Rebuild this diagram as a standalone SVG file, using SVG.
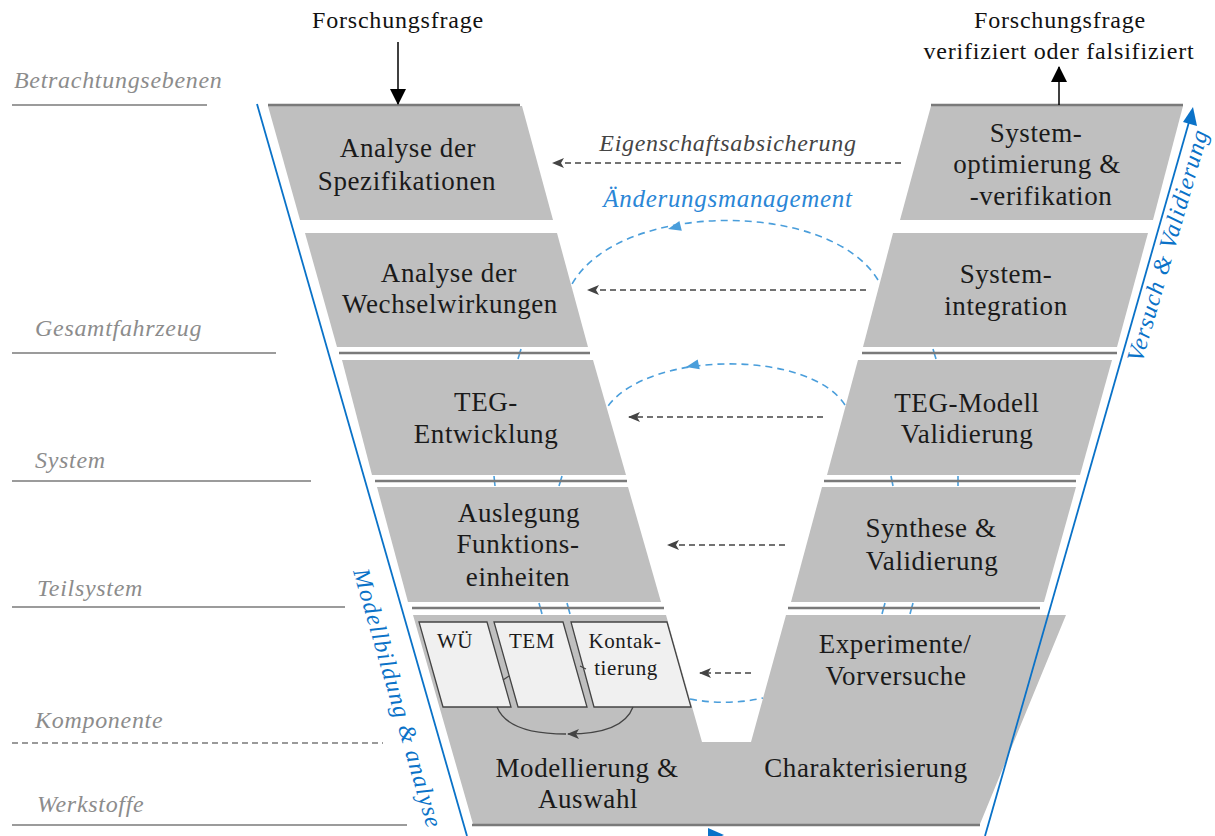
<svg xmlns="http://www.w3.org/2000/svg" width="1215" height="836" viewBox="0 0 1215 836">
<defs>
<style>
.blk{fill:#bfbfbf;stroke:none}
.sub{fill:#f0f0f0;stroke:#444;stroke-width:1.3}
.sep{stroke:#7a7a7a;stroke-width:2.6;fill:none}
.lvl{stroke:#7a7a7a;stroke-width:1.6;fill:none}
.t{font-family:"Liberation Serif","Times New Roman",serif;font-size:27px;letter-spacing:0.6px;fill:#1a1a1a;text-anchor:middle}
.ts{font-family:"Liberation Serif","Times New Roman",serif;font-size:21px;letter-spacing:0.6px;fill:#1a1a1a;text-anchor:middle}
.top{font-family:"Liberation Serif","Times New Roman",serif;font-size:24px;letter-spacing:0.8px;fill:#111;text-anchor:middle}
.lbl{font-family:"Liberation Serif","Times New Roman",serif;font-size:24px;font-style:italic;letter-spacing:0.7px;fill:#8c8c8c}
.dash{stroke:#444;stroke-width:1.5;stroke-dasharray:6 4;fill:none;marker-end:url(#ah)}
.bdash{stroke:#4a9edb;stroke-width:1.6;stroke-dasharray:7 5;fill:none}
.blue{stroke:#0a72c8;stroke-width:1.8;fill:none}
.btxt{font-family:"Liberation Serif","Times New Roman",serif;font-size:24px;font-style:italic;fill:#0a72c8;text-anchor:middle}
.mid{font-family:"Liberation Serif","Times New Roman",serif;font-style:italic;text-anchor:middle}
</style>
<marker id="ah" viewBox="0 0 12 10" refX="11" refY="5" markerWidth="12" markerHeight="10" markerUnits="userSpaceOnUse" orient="auto">
<path d="M0,0 L12,5 L0,10 L3,5 Z" fill="#444"/>
</marker>
<marker id="ahk" viewBox="0 0 16 16" refX="15" refY="8" markerWidth="16" markerHeight="16" markerUnits="userSpaceOnUse" orient="auto">
<path d="M0,0 L16,8 L0,16 Z" fill="#000"/>
</marker>
</defs>
<rect width="1215" height="836" fill="#ffffff"/>

<g id="levels">
<line class="lvl" x1="12" y1="105" x2="207" y2="105"/>
<line class="lvl" x1="12" y1="353" x2="276" y2="353"/>
<line class="lvl" x1="12" y1="481" x2="311" y2="481"/>
<line class="lvl" x1="12" y1="607" x2="345" y2="607"/>
<line class="lvl" x1="12" y1="743" x2="383" y2="743" stroke-dasharray="6 4"/>
<line class="lvl" x1="12" y1="825" x2="407" y2="825"/>
<text class="lbl" x="14" y="88">Betrachtungsebenen</text>
<text class="lbl" x="35" y="336">Gesamtfahrzeug</text>
<text class="lbl" x="35" y="468">System</text>
<text class="lbl" x="37" y="596">Teilsystem</text>
<text class="lbl" x="35" y="728">Komponente</text>
<text class="lbl" x="37" y="812">Werkstoffe</text>
</g>

<g id="change-arcs">
<path class="bdash" d="M878,280 C830,200 620,200 572,284"/>
<path class="bdash" d="M845,405 C810,350 650,350 608,406"/>
<path class="bdash" d="M690,699 Q727,706 763,698"/>
<polygon points="0,0 13,-5 13,5" fill="#4a9edb" transform="translate(668,229) rotate(-14)"/>
<polygon points="0,0 13,-5 13,5" fill="#4a9edb" transform="translate(686,367) rotate(-12)"/>
<g stroke="#4a9edb" stroke-width="1.6">
<line x1="521" y1="349" x2="518" y2="359"/>
<line x1="933" y1="349" x2="936" y2="359"/>
<line x1="494" y1="476" x2="495" y2="486"/>
<line x1="562" y1="476" x2="559" y2="486"/>
<line x1="891" y1="476" x2="893" y2="486"/>
<line x1="958" y1="476" x2="958" y2="486"/>
<line x1="539" y1="603" x2="542" y2="614"/>
<line x1="567" y1="603" x2="570" y2="614"/>
<line x1="885" y1="603" x2="882" y2="614"/>
<line x1="913" y1="603" x2="910" y2="614"/>
</g>
</g>

<g id="analyse-spezifikationen">
<polygon class="blk" points="268,106 522,106 553,220 300,220"/>
<line class="sep" x1="268" y1="105" x2="520" y2="105"/>
<text class="t" x="408" y="157">Analyse der</text>
<text class="t" x="407" y="190">Spezifikationen</text>
</g>
<g id="analyse-wechselwirkungen">
<polygon class="blk" points="305,233 557,233 588,347 337,347"/>
<text class="t" x="449" y="282">Analyse der</text>
<text class="t" x="450" y="313">Wechselwirkungen</text>
</g>
<g id="teg-entwicklung">
<polygon class="blk" points="342,360 593,360 626,475 372,475"/>
<text class="t" x="486" y="411">TEG-</text>
<text class="t" x="486" y="443">Entwicklung</text>
</g>
<g id="auslegung">
<polygon class="blk" points="377,487 628,487 661,602 408,602"/>
<text class="t" x="519" y="522">Auslegung</text>
<text class="t" x="518" y="553">Funktions-</text>
<text class="t" x="518" y="586">einheiten</text>
</g>

<g id="system-optimierung">
<polygon class="blk" points="931,106 1183,106 1153,220 900,220"/>
<line class="sep" x1="931" y1="105" x2="1183" y2="105"/>
<text class="t" x="1036" y="142">System-</text>
<text class="t" x="1037" y="173">optimierung &amp;</text>
<text class="t" x="1041" y="205">-verifikation</text>
</g>
<g id="system-integration">
<polygon class="blk" points="893,233 1148,233 1117,347 863,347"/>
<text class="t" x="1006" y="283">System-</text>
<text class="t" x="1006" y="315">integration</text>
</g>
<g id="teg-modell-validierung">
<polygon class="blk" points="858,360 1112,360 1080,475 827,475"/>
<text class="t" x="967" y="412">TEG-Modell</text>
<text class="t" x="967" y="443">Validierung</text>
</g>
<g id="synthese-validierung">
<polygon class="blk" points="822,487 1076,487 1044,602 791,602"/>
<text class="t" x="931" y="537">Synthese &amp;</text>
<text class="t" x="932" y="570">Validierung</text>
</g>

<g id="separators">
<line class="sep" x1="339" y1="353" x2="590" y2="353"/>
<line class="sep" x1="862" y1="353" x2="1117" y2="353"/>
<line class="sep" x1="375" y1="481" x2="627" y2="481"/>
<line class="sep" x1="824" y1="481" x2="1076" y2="481"/>
<line class="sep" x1="412" y1="608" x2="664" y2="608"/>
<line class="sep" x1="788" y1="608" x2="1040" y2="608"/>
</g>

<g id="bottom-block">
<polygon class="blk" points="413,615 666,615 702,742 751,742 786,615 1066,615 980,824 473,824"/>
<line class="sep" x1="472" y1="825" x2="980" y2="825"/>
<text class="t" x="587" y="777">Modellierung &amp;</text>
<text class="t" x="588" y="808">Auswahl</text>
<text class="t" x="895" y="653">Experimente/</text>
<text class="t" x="896" y="685">Vorversuche</text>
<text class="t" x="866" y="777">Charakterisierung</text>
</g>

<g id="wue">
<polygon class="sub" points="419,622 487,622 511,707 443,707"/>
<text class="ts" x="455" y="648">WÜ</text>
</g>
<g id="tem">
<polygon class="sub" points="494,622 563,622 587,707 518,707"/>
<text class="ts" x="532" y="648">TEM</text>
</g>
<g id="kontaktierung">
<polygon class="sub" points="571,622 667,622 691,707 594,707"/>
<text class="ts" x="625" y="648">Kontak-</text>
<text class="ts" x="626" y="675">tierung</text>
</g>

<g id="connectors">
<line x1="503" y1="680" x2="509" y2="676" stroke="#444" stroke-width="1.2"/>
<line x1="580" y1="666" x2="586" y2="669" stroke="#444" stroke-width="1.2"/>
<path d="M497,707 C505,727 530,734 566,734" stroke="#444" stroke-width="1.3" fill="none"/>
<path d="M633,707 C626,726 602,734 568,734" stroke="#444" stroke-width="1.3" fill="none" marker-end="url(#ah)"/>
<line x1="398" y1="42" x2="398" y2="104" stroke="#000" stroke-width="1.5" marker-end="url(#ahk)"/>
<line x1="1059" y1="105" x2="1059" y2="67" stroke="#000" stroke-width="1.5" marker-end="url(#ahk)"/>
<path class="dash" d="M901,163 L553,163"/>
<path class="dash" d="M866,290 L588,290"/>
<path class="dash" d="M823,417 L629,417"/>
<path class="dash" d="M785,545 L668,545"/>
<path class="dash" d="M751,673 L700,673"/>
<line class="blue" x1="257" y1="104" x2="467" y2="836"/>
<line class="blue" x1="985" y1="836" x2="1189" y2="122"/>
<polygon points="1193,107 1197,126 1183,122" fill="#0a72c8"/>
<polygon points="708,828 724,835 708,842" fill="#0a72c8"/>
</g>

<g id="labels">
<text class="top" x="398" y="28">Forschungsfrage</text>
<text class="top" x="1060" y="28">Forschungsfrage</text>
<text class="top" x="1059" y="59">verifiziert oder falsifiziert</text>
<text class="mid" x="728" y="151" font-size="24" letter-spacing="0.7" fill="#444">Eigenschaftsabsicherung</text>
<text class="mid" x="728" y="207" font-size="25" letter-spacing="0.7" fill="#2a86d6">Änderungsmanagement</text>
<text class="btxt" transform="translate(390,700) rotate(74)" textLength="268" lengthAdjust="spacing">Modellbildung  &amp;  analyse</text>
<text class="btxt" transform="translate(1175,248) rotate(-74)" textLength="240" lengthAdjust="spacing">Versuch &amp; Validierung</text>
</g>
</svg>
